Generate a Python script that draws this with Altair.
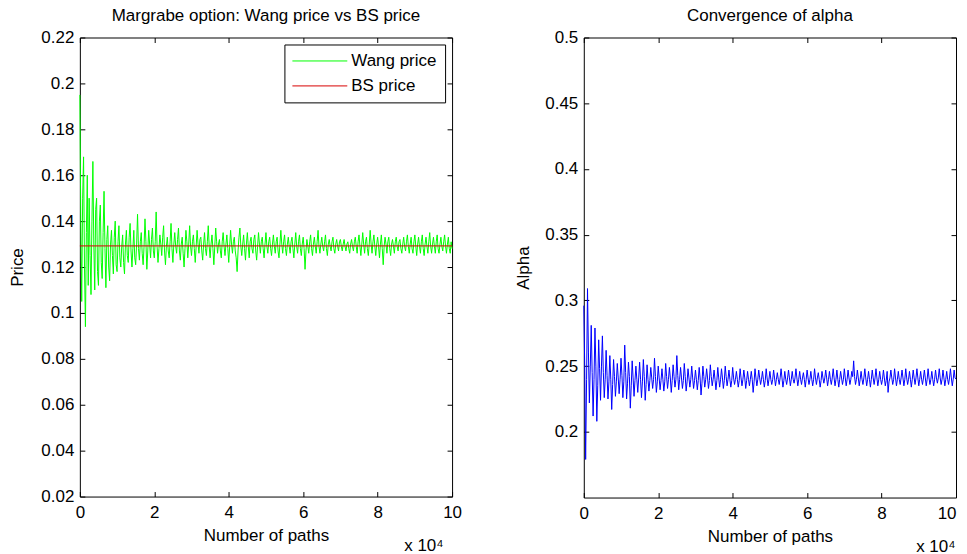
import altair as alt
import pandas as pd

# ---------------- data ----------------
step_paths = 250  # sampling step of the simulation (paths)

wang_price = [
    0.195, 0.140, 0.105, 0.150, 0.168, 0.120, 0.094, 0.135, 0.160, 0.112, 0.150, 0.125, 0.108, 0.140, 0.166, 0.130, 0.110, 0.145, 0.150, 0.118,
    0.112, 0.140, 0.147, 0.122, 0.115, 0.135, 0.153, 0.128, 0.111, 0.132, 0.138, 0.120, 0.114, 0.130, 0.136, 0.125, 0.117, 0.133, 0.140, 0.121,
    0.118, 0.131, 0.138, 0.124, 0.120, 0.129, 0.134, 0.122, 0.117, 0.130, 0.136, 0.125, 0.122, 0.133, 0.139, 0.127, 0.120, 0.128, 0.136, 0.124,
    0.121, 0.130, 0.143, 0.128, 0.123, 0.131, 0.135, 0.126, 0.121, 0.129, 0.141, 0.131, 0.119, 0.127, 0.136, 0.130, 0.124, 0.132, 0.137, 0.127,
    0.124, 0.131, 0.144, 0.129, 0.122, 0.128, 0.134, 0.130, 0.125, 0.133, 0.138, 0.127, 0.121, 0.129, 0.133, 0.127, 0.124, 0.131, 0.139, 0.128,
    0.122, 0.130, 0.135, 0.129, 0.126, 0.132, 0.137, 0.127, 0.123, 0.130, 0.133, 0.126, 0.120, 0.128, 0.136, 0.131, 0.124, 0.130, 0.138, 0.129,
    0.125, 0.131, 0.134, 0.128, 0.122, 0.129, 0.136, 0.130, 0.126, 0.132, 0.133, 0.127, 0.123, 0.130, 0.135, 0.128, 0.125, 0.131, 0.138, 0.129,
    0.124, 0.130, 0.134, 0.128, 0.121, 0.129, 0.137, 0.131, 0.126, 0.130, 0.132, 0.127, 0.124, 0.131, 0.135, 0.129, 0.125, 0.130, 0.134, 0.128,
    0.122, 0.129, 0.136, 0.130, 0.126, 0.131, 0.133, 0.127, 0.124, 0.118, 0.127, 0.133, 0.137, 0.129, 0.125, 0.130, 0.134, 0.128, 0.123, 0.130,
    0.135, 0.129, 0.124, 0.131, 0.133, 0.128, 0.126, 0.132, 0.134, 0.127, 0.123, 0.129, 0.135, 0.130, 0.126, 0.131, 0.133, 0.128, 0.124, 0.130,
    0.135, 0.129, 0.126, 0.131, 0.133, 0.128, 0.125, 0.130, 0.134, 0.129, 0.126, 0.131, 0.133, 0.127, 0.124, 0.130, 0.136, 0.130, 0.126, 0.131,
    0.134, 0.128, 0.125, 0.130, 0.133, 0.129, 0.126, 0.131, 0.133, 0.128, 0.124, 0.130, 0.135, 0.129, 0.126, 0.131, 0.134, 0.128, 0.125, 0.130,
    0.133, 0.128, 0.119, 0.127, 0.132, 0.129, 0.126, 0.131, 0.134, 0.128, 0.125, 0.130, 0.133, 0.129, 0.126, 0.131, 0.136, 0.129, 0.126, 0.130,
    0.133, 0.129, 0.127, 0.131, 0.134, 0.128, 0.125, 0.130, 0.132, 0.129, 0.127, 0.131, 0.133, 0.128, 0.126, 0.130, 0.132, 0.129, 0.127, 0.131,
    0.132, 0.129, 0.127, 0.130, 0.132, 0.129, 0.127, 0.130, 0.131, 0.128, 0.126, 0.130, 0.132, 0.129, 0.127, 0.131, 0.133, 0.129, 0.126, 0.131,
    0.134, 0.129, 0.125, 0.130, 0.135, 0.130, 0.126, 0.131, 0.133, 0.128, 0.125, 0.130, 0.136, 0.130, 0.126, 0.131, 0.134, 0.129, 0.125, 0.130,
    0.133, 0.129, 0.124, 0.130, 0.134, 0.128, 0.121, 0.129, 0.133, 0.130, 0.126, 0.131, 0.133, 0.128, 0.125, 0.130, 0.132, 0.129, 0.126, 0.131,
    0.133, 0.129, 0.127, 0.131, 0.132, 0.128, 0.126, 0.130, 0.133, 0.129, 0.127, 0.131, 0.134, 0.129, 0.126, 0.130, 0.133, 0.128, 0.126, 0.131,
    0.134, 0.129, 0.125, 0.130, 0.133, 0.129, 0.126, 0.131, 0.134, 0.128, 0.125, 0.130, 0.133, 0.129, 0.126, 0.131, 0.135, 0.129, 0.126, 0.130,
    0.133, 0.129, 0.126, 0.131, 0.134, 0.128, 0.126, 0.130, 0.133, 0.129, 0.127, 0.131, 0.134, 0.129, 0.126, 0.130, 0.133, 0.128, 0.126, 0.131,
    0.128,
]

alpha_values = [
    0.296, 0.250, 0.179, 0.240, 0.309, 0.260, 0.222, 0.250, 0.281, 0.245, 0.212, 0.240, 0.279, 0.250, 0.208, 0.235, 0.270, 0.248, 0.224, 0.250,
    0.273, 0.245, 0.226, 0.240, 0.262, 0.243, 0.225, 0.238, 0.258, 0.240, 0.217, 0.236, 0.255, 0.242, 0.227, 0.238, 0.252, 0.241, 0.229, 0.240,
    0.256, 0.243, 0.226, 0.238, 0.266, 0.245, 0.225, 0.237, 0.253, 0.242, 0.218, 0.235, 0.254, 0.241, 0.227, 0.239, 0.250, 0.240, 0.230, 0.241,
    0.253, 0.240, 0.226, 0.238, 0.255, 0.242, 0.224, 0.236, 0.251, 0.240, 0.231, 0.239, 0.249, 0.241, 0.233, 0.240, 0.256, 0.242, 0.230, 0.238,
    0.250, 0.241, 0.232, 0.239, 0.248, 0.240, 0.231, 0.238, 0.252, 0.242, 0.233, 0.240, 0.249, 0.241, 0.230, 0.239, 0.251, 0.242, 0.234, 0.240,
    0.258, 0.243, 0.232, 0.240, 0.249, 0.241, 0.233, 0.239, 0.252, 0.242, 0.231, 0.238, 0.248, 0.241, 0.234, 0.240, 0.250, 0.241, 0.233, 0.239,
    0.247, 0.240, 0.232, 0.239, 0.249, 0.241, 0.228, 0.237, 0.250, 0.242, 0.234, 0.240, 0.248, 0.241, 0.233, 0.239, 0.251, 0.242, 0.235, 0.240,
    0.247, 0.240, 0.232, 0.239, 0.249, 0.241, 0.234, 0.240, 0.248, 0.241, 0.233, 0.239, 0.250, 0.242, 0.235, 0.240, 0.247, 0.240, 0.234, 0.239,
    0.249, 0.241, 0.236, 0.240, 0.246, 0.240, 0.234, 0.239, 0.248, 0.241, 0.235, 0.240, 0.247, 0.241, 0.233, 0.239, 0.246, 0.240, 0.235, 0.240,
    0.246, 0.240, 0.230, 0.238, 0.248, 0.241, 0.235, 0.240, 0.247, 0.241, 0.236, 0.240, 0.246, 0.240, 0.234, 0.239, 0.248, 0.241, 0.235, 0.240,
    0.246, 0.240, 0.236, 0.240, 0.247, 0.241, 0.235, 0.240, 0.245, 0.240, 0.236, 0.241, 0.248, 0.241, 0.234, 0.239, 0.246, 0.240, 0.236, 0.241,
    0.247, 0.241, 0.235, 0.240, 0.246, 0.240, 0.237, 0.241, 0.248, 0.241, 0.235, 0.240, 0.246, 0.240, 0.236, 0.241, 0.245, 0.240, 0.234, 0.240,
    0.247, 0.241, 0.236, 0.240, 0.246, 0.240, 0.235, 0.240, 0.248, 0.241, 0.236, 0.241, 0.245, 0.240, 0.234, 0.239, 0.246, 0.241, 0.237, 0.241,
    0.247, 0.241, 0.235, 0.240, 0.246, 0.240, 0.236, 0.241, 0.248, 0.241, 0.235, 0.240, 0.247, 0.240, 0.234, 0.240, 0.246, 0.241, 0.236, 0.240,
    0.248, 0.241, 0.235, 0.240, 0.247, 0.241, 0.236, 0.240, 0.246, 0.242, 0.254, 0.242, 0.236, 0.240, 0.247, 0.241, 0.235, 0.240, 0.246, 0.240,
    0.236, 0.241, 0.248, 0.241, 0.235, 0.240, 0.246, 0.240, 0.234, 0.240, 0.247, 0.241, 0.236, 0.241, 0.248, 0.241, 0.235, 0.240, 0.246, 0.240,
    0.236, 0.240, 0.247, 0.241, 0.235, 0.239, 0.246, 0.230, 0.238, 0.241, 0.247, 0.241, 0.236, 0.240, 0.248, 0.241, 0.235, 0.240, 0.246, 0.240,
    0.236, 0.241, 0.247, 0.241, 0.235, 0.240, 0.248, 0.241, 0.236, 0.240, 0.246, 0.240, 0.234, 0.240, 0.247, 0.241, 0.236, 0.241, 0.248, 0.241,
    0.235, 0.240, 0.246, 0.240, 0.236, 0.241, 0.247, 0.241, 0.235, 0.240, 0.248, 0.241, 0.236, 0.240, 0.246, 0.240, 0.235, 0.240, 0.247, 0.241,
    0.237, 0.241, 0.248, 0.241, 0.236, 0.240, 0.247, 0.241, 0.235, 0.240, 0.246, 0.240, 0.236, 0.241, 0.248, 0.241, 0.235, 0.240, 0.247, 0.241,
    0.240,
]

bs_price = 0.1292
path_range = [0, 100000]

x_tick_values = [0, 20000, 40000, 60000, 80000, 100000]
price_ticks = [0.02, 0.04, 0.06, 0.08, 0.1, 0.12, 0.14, 0.16, 0.18, 0.2, 0.22]
alpha_ticks = [0.2, 0.25, 0.3, 0.35, 0.4, 0.45, 0.5]

series_names = ["Wang price", "BS price"]
series_colors = ["#00ff00", "#d80000"]

left_title = "Margrabe option: Wang price vs BS price"
right_title = "Convergence of alpha"
x_title = "Number of paths"
x_exp = "x 10\u2074"

# ---------------- tables ----------------
paths = [i * step_paths for i in range(len(wang_price))]
df_wang = pd.DataFrame({"paths": paths, "value": wang_price, "series": series_names[0]})
df_bs = pd.DataFrame({"paths": path_range, "value": [bs_price, bs_price], "series": series_names[1]})
df_alpha = pd.DataFrame({"paths": paths, "value": alpha_values})

FONT = "Liberation Sans"
FS = 17
W1, H1 = 373, 460
W2, H2 = 373, 461
TICK = 5

xscale = alt.Scale(domain=path_range, nice=False, zero=False)
yscale1 = alt.Scale(domain=[0.02, 0.22], nice=False, zero=False)
yscale2 = alt.Scale(domain=[0.15, 0.5], nice=False, zero=False)

txt = dict(labelFont=FONT, labelFontSize=FS, labelColor="black",
           titleFont=FONT, titleFontSize=FS, titleFontWeight="normal", titleColor="black")


def x_main_axis(edge_last=False):
    extra = {}
    if edge_last:
        # the last label sits at the page edge (it is clipped there in the original)
        extra = dict(
            labelAlign={"condition": {"test": "datum.value >= 100000", "value": "right"},
                        "value": "center"},
        )
    return alt.Axis(orient="bottom", values=x_tick_values, labelExpr="datum.value / 10000",
                    ticks=False, domain=False, grid=False, labelPadding=8, labelFlush=False,
                    title=x_title, titleBaseline="alphabetic", titleY=44, **txt, **extra)


def x_exp_axis(w, dx):
    return alt.Axis(orient="bottom", values=x_tick_values, labels=False, ticks=False,
                    domain=False, grid=False, title=x_exp, titleAlign="right",
                    titleAnchor="end", titleX=w - dx, titleY=54,
                    titleBaseline="alphabetic", **txt)


def x_tick_axis(orient, h):
    return alt.Axis(orient=orient, offset=-h, values=x_tick_values, labels=False,
                    ticks=True, tickSize=TICK, tickColor="black", tickWidth=1,
                    domain=False, grid=False, title=None)


def y_main_axis(values, title, tx):
    return alt.Axis(orient="left", values=values, format="~g", ticks=False, domain=False,
                    grid=False, labelPadding=6, labelFlush=False, title=title,
                    titleAngle=270, titleBaseline="alphabetic", titleX=tx, **txt)


def y_tick_axis(orient, values, w):
    return alt.Axis(orient=orient, offset=-w, values=values, labels=False,
                    ticks=True, tickSize=TICK, tickColor="black", tickWidth=1,
                    domain=False, grid=False, title=None)


color_enc = alt.Color(
    "series:N",
    scale=alt.Scale(domain=series_names, range=series_colors),
    legend=alt.Legend(orient="top-right", offset=7, title=None,
                      symbolType="M-5,0H5", symbolSize=121, symbolStrokeWidth=1,
                      symbolOffset=19, labelOffset=23,
                      labelFont=FONT, labelFontSize=FS, labelColor="black",
                      strokeColor="black", fillColor="white", padding=8,
                      rowPadding=7, cornerRadius=0),
)


def panel_title(text):
    return alt.TitleParams(text, font=FONT, fontSize=FS, fontWeight="normal",
                           color="black", anchor="middle", frame="group",
                           baseline="alphabetic", offset=0, dy=9)


# ---------------- left panel ----------------
l_wang = alt.Chart(df_wang).mark_line(strokeWidth=1).encode(
    x=alt.X("paths:Q", scale=xscale, axis=x_main_axis()),
    y=alt.Y("value:Q", scale=yscale1, axis=y_main_axis(price_ticks, "Price", -57)),
    color=color_enc,
)
l_bs = alt.Chart(df_bs).mark_line(strokeWidth=1).encode(
    x=alt.X("paths:Q", scale=xscale, axis=x_tick_axis("top", H1)),
    y=alt.Y("value:Q", scale=yscale1, axis=y_tick_axis("right", price_ticks, W1)),
    color=color_enc,
)
l_t2 = alt.Chart(df_bs).mark_line(opacity=0).encode(
    x=alt.X("paths:Q", scale=xscale, axis=x_tick_axis("bottom", H1)),
    y=alt.Y("value:Q", scale=yscale1, axis=y_tick_axis("left", price_ticks, W1)),
)
l_t3 = alt.Chart(df_bs).mark_line(opacity=0).encode(
    x=alt.X("paths:Q", scale=xscale, axis=x_exp_axis(W1, 9)),
    y=alt.Y("value:Q", scale=yscale1, axis=None),
)
left = alt.layer(l_wang, l_bs, l_t2, l_t3).resolve_axis(
    x="independent", y="independent"
).properties(width=W1, height=H1, title=panel_title(left_title))

# ---------------- right panel ----------------
r_line = alt.Chart(df_alpha).mark_line(strokeWidth=1, color="#0000ff").encode(
    x=alt.X("paths:Q", scale=xscale, axis=x_main_axis(edge_last=True)),
    y=alt.Y("value:Q", scale=yscale2, axis=y_main_axis(alpha_ticks, "Alpha", -55)),
)
r_t1 = alt.Chart(df_alpha).mark_line(opacity=0).encode(
    x=alt.X("paths:Q", scale=xscale, axis=x_tick_axis("top", H2)),
    y=alt.Y("value:Q", scale=yscale2, axis=y_tick_axis("right", alpha_ticks, W2)),
)
r_t2 = alt.Chart(df_alpha).mark_line(opacity=0).encode(
    x=alt.X("paths:Q", scale=xscale, axis=x_tick_axis("bottom", H2)),
    y=alt.Y("value:Q", scale=yscale2, axis=y_tick_axis("left", alpha_ticks, W2)),
)
r_t3 = alt.Chart(df_alpha).mark_line(opacity=0).encode(
    x=alt.X("paths:Q", scale=xscale, axis=x_exp_axis(W2, 1)),
    y=alt.Y("value:Q", scale=yscale2, axis=None),
)
right = alt.layer(r_line, r_t1, r_t2, r_t3).resolve_axis(
    x="independent", y="independent"
).properties(width=W2, height=H2, title=panel_title(right_title))

chart = alt.hconcat(left, right, spacing=52).resolve_scale(
    color="independent"
).resolve_legend(color="independent").properties(
    padding={"top": -3, "left": 0, "right": 0, "bottom": 0}, background="white"
).configure_view(stroke="black", strokeWidth=1)

chart.save("out.html", embed_options={"renderer": "svg", "actions": False})
